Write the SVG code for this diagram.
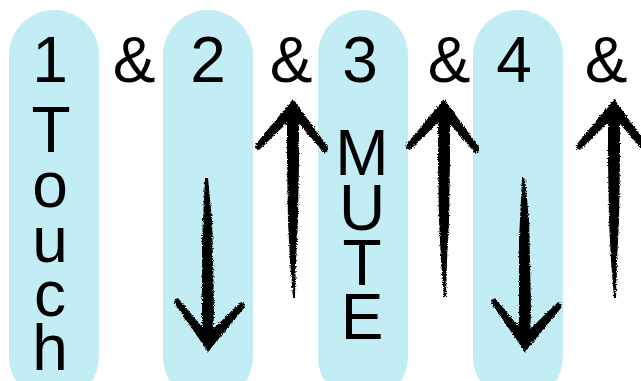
<svg xmlns="http://www.w3.org/2000/svg" width="641" height="381" viewBox="0 0 641 381">
<style>
.pill{fill:#c2edf4}
.t{font-family:"Liberation Sans",Arial,sans-serif;font-size:64px;fill:#000;text-anchor:middle}
.ink{fill:#000}
</style>
<defs>
<filter id="rough" x="-20%" y="-10%" width="140%" height="120%">
<feTurbulence type="fractalNoise" baseFrequency="0.9" numOctaves="2" seed="3" result="n"/>
<feDisplacementMap in="SourceGraphic" in2="n" scale="3.5" xChannelSelector="R" yChannelSelector="G"/>
</filter>
<g id="up">
<polygon class="ink" points="0,-2 -37,43 -38,47 -34,49 -1,17 1,17 31,52 35,50 35,46"/>
<polygon class="ink" points="-6,8 6,8 6,60 5,120 3,160 2,197 0,197 -3,160 -5,120 -6,60"/>
</g>
<g id="down">
<polygon class="ink" points="0,2 -33,-46 -34,-50 -30,-52 -1,-17 1,-17 33,-48 37,-46 36,-42"/>
<polygon class="ink" points="-3,-172 0,-172 4,-130 5,-90 6,-40 5,-8 -6,-8 -6,-60 -6,-110"/>
</g>
</defs>
<rect width="641" height="381" fill="#fff"/>
<g id="beat1">
<rect class="pill" x="9" y="10" width="90" height="392" rx="45"/>
<text class="t" x="50" y="82">1</text>
<text class="t" x="51" y="152">T</text>
<text class="t" x="50" y="207">o</text>
<text class="t" x="50" y="262">u</text>
<text class="t" x="50" y="316">c</text>
<text class="t" x="50" y="370">h</text>
</g>
<g id="and1"><text class="t" x="134" y="82">&amp;</text></g>
<g id="beat2">
<rect class="pill" x="163" y="10" width="90" height="392" rx="45"/>
<text class="t" x="208" y="82">2</text>
</g>
<g id="and2"><text class="t" x="291" y="82">&amp;</text></g>
<g id="beat3">
<rect class="pill" x="318" y="10" width="90" height="392" rx="45"/>
<text class="t" x="360" y="82">3</text>
<text class="t" x="362" y="175">M</text>
<text class="t" x="362" y="230">U</text>
<text class="t" x="362" y="285">T</text>
<text class="t" x="362" y="339">E</text>
</g>
<g id="and3"><text class="t" x="449" y="82">&amp;</text></g>
<g id="beat4">
<rect class="pill" x="473" y="10" width="90" height="392" rx="45"/>
<text class="t" x="514" y="82">4</text>
</g>
<g id="and4"><text class="t" x="606" y="82">&amp;</text></g>
<g id="arrows" filter="url(#rough)">
<use href="#down" x="208" y="350"/>
<use href="#up" x="293" y="101"/>
<use href="#up" x="444" y="101"/>
<use href="#down" x="525" y="350"/>
<use href="#up" x="614" y="101"/>
</g>
</svg>
